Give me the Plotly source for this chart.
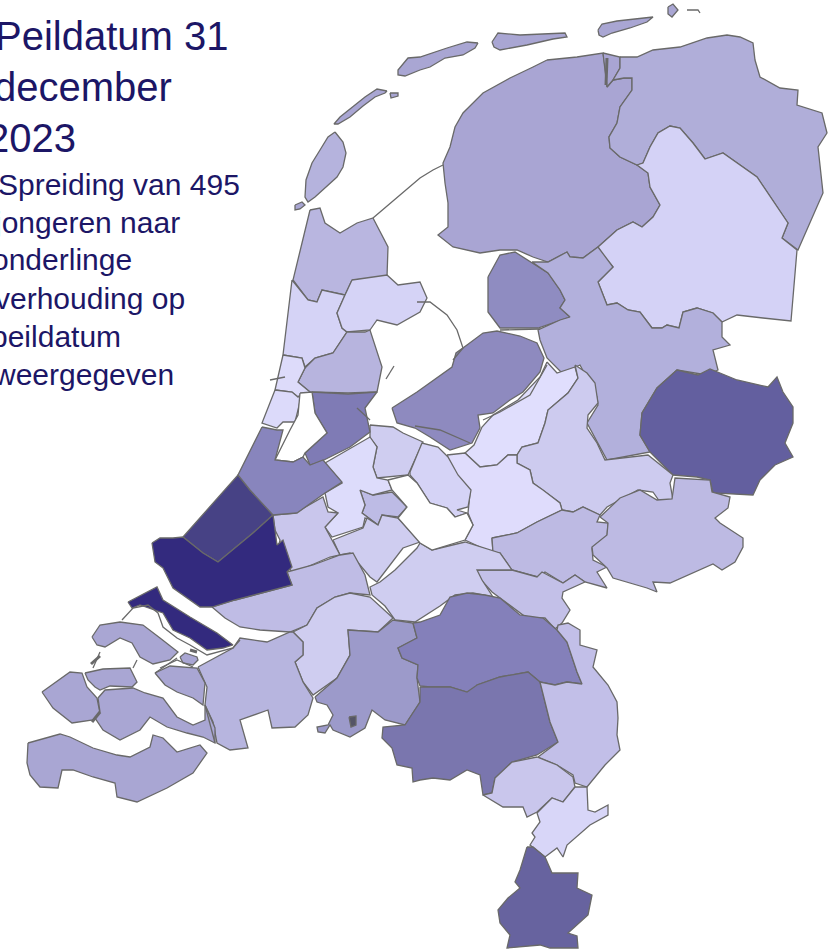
import plotly.graph_objects as go

TITLE_LINES = ["Peildatum 31", "december", "2023"]
TITLE_RIGHT = [230, 174, 78]
TITLE_Y = [36, 87, 138]
NOTE_LINES = ["Spreiding van 495", "jongeren naar", "onderlinge", "verhouding op", "peildatum", "weergegeven"]
NOTE_RIGHT = [242, 182, 134, 187, 123, 176]
NOTE_Y = [184, 222, 259, 298, 336, 374]
TEXT_COLOR = "#1c1666"
LINE_COLOR = "#696969"

TEXEL = [(335,132),(343,142),(346,153),(343,167),(337,177),(325,188),(315,197),(308,202),(305,197),(306,180),(312,163),(320,150),(328,137)]
NOORDERHAAKS = [(295,205),(302,202),(305,205),(300,209),(295,210)]
VLIELAND = [(387,91),(377,89),(365,97),(353,107),(340,117),(334,124),(338,124),(350,117),(363,106),(375,97),(385,93)]
RICHEL = [(390,93),(398,93),(398,96),(391,98)]
TERSCHELLING = [(478,43),(467,42),(447,48),(420,57),(408,58),(398,70),(398,75),(405,76),(420,70),(430,67),(445,58),(463,55),(475,48)]
AMELAND = [(492,42),(498,33),(520,35),(565,33),(567,37),(553,39),(527,45),(500,50),(494,47)]
SCHIERMONNIKOOG = [(598,30),(602,24),(617,21),(653,17),(647,22),(630,28),(612,33),(603,37),(599,35)]
ROTTUMEROOG = [(668,7),(673,4),(678,10),(672,17),(668,14)]
FRIESLAND = [(547,60),(577,57),(603,53),(605,67),(607,87),(613,80),(624,78),(632,78),(632,90),(620,107),(617,123),(609,137),(610,148),(620,157),(637,165),(648,173),(650,187),(660,205),(653,217),(642,227),(633,222),(617,230),(598,247),(583,258),(570,257),(567,252),(548,262),(533,257),(517,250),(500,250),(480,253),(453,247),(438,235),(448,227),(448,203),(445,183),(443,163),(450,147),(455,127),(463,113),(483,93),(510,78),(533,67)]
LAUWERSMEER = [(603,53),(620,57),(620,68),(613,80),(607,87),(605,67)]
GRONINGEN = [(620,57),(637,57),(653,50),(680,47),(707,38),(727,35),(740,37),(753,43),(755,60),(760,77),(780,88),(798,90),(797,105),(822,113),(827,133),(818,147),(823,193),(810,223),(798,250),(782,238),(788,223),(757,177),(723,153),(705,159),(693,143),(680,128),(670,126),(658,133),(650,147),(643,163),(637,165),(620,157),(610,148),(609,137),(617,123),(620,107),(632,90),(632,78),(624,78),(613,80),(620,68)]
DRENTHE = [(598,247),(617,230),(633,222),(642,227),(653,217),(660,205),(650,187),(648,173),(637,165),(643,163),(650,147),(658,133),(670,126),(680,128),(693,143),(705,159),(723,153),(757,177),(788,223),(782,238),(797,250),(791,321),(763,318),(737,315),(722,322),(713,313),(697,308),(683,312),(679,328),(667,325),(662,328),(652,328),(640,312),(628,310),(617,303),(607,305),(598,282),(613,267),(603,255)]
NOORDOOSTPOLDER = [(488,277),(500,255),(515,252),(533,263),(548,273),(560,290),(565,300),(560,308),(570,317),(538,328),(500,328),(488,312)]
OVERIJSSEL = [(532,262),(548,262),(567,252),(570,257),(583,258),(598,247),(613,267),(598,282),(607,305),(617,303),(628,310),(640,312),(652,328),(662,328),(667,325),(679,328),(683,312),(697,308),(713,313),(722,322),(722,337),(730,345),(713,350),(718,370),(707,375),(687,372),(677,370),(657,388),(642,413),(640,435),(650,452),(607,460),(600,447),(587,423),(598,405),(597,397),(580,365),(575,367),(562,373),(547,358),(540,340),(538,330),(560,320),(570,317),(560,308),(565,300),(560,290),(548,273)]
TWENTE = [(650,452),(640,435),(642,413),(657,388),(677,370),(698,375),(710,369),(737,380),(768,387),(777,377),(783,392),(793,407),(793,423),(785,443),(793,457),(775,465),(760,480),(753,495),(713,493),(710,480),(697,477),(673,475)]
FLEVOLAND = [(392,408),(417,392),(452,367),(456,353),(467,345),(483,333),(497,331),(520,336),(537,343),(544,358),(540,372),(523,392),(510,400),(493,413),(478,415),(480,428),(472,443),(450,450),(430,437),(415,428),(397,423)]
NOORD_VELUWE = [(547,362),(557,373),(575,367),(578,378),(568,393),(548,410),(545,423),(538,443),(522,447),(517,455),(508,455),(497,465),(480,467),(465,453),(474,445),(482,427),(493,415),(518,400),(540,377)]
IJSSELLAND = [(575,365),(587,373),(595,383),(598,403),(588,415),(587,428),(597,443),(605,460),(648,455),(673,475),(670,483),(673,500),(660,502),(653,492),(638,490),(620,500),(607,507),(600,515),(583,507),(573,512),(562,510),(560,503),(543,490),(533,483),(530,470),(517,463),(517,455),(522,447),(538,443),(545,423),(548,410),(568,393),(578,378)]
VALLEI = [(447,455),(465,453),(480,467),(497,465),(508,455),(517,455),(517,463),(530,470),(533,483),(543,490),(560,503),(562,510),(537,522),(517,533),(492,538),(493,553),(465,540),(473,525),(468,513),(470,493),(463,482),(453,472)]
RIJK_VAN_NIJMEGEN = [(492,538),(517,533),(537,522),(562,510),(573,512),(583,507),(600,515),(597,522),(608,523),(607,537),(592,548),(593,560),(607,567),(597,572),(607,588),(585,582),(575,575),(563,583),(545,572),(538,577),(512,570),(500,553),(493,553)]
ACHTERHOEK = [(600,517),(620,498),(640,490),(657,500),(672,499),(675,478),(710,480),(712,492),(730,497),(728,508),(715,518),(720,523),(743,538),(743,547),(735,562),(722,570),(713,564),(670,583),(653,582),(657,592),(647,588),(637,585),(613,578),(607,568),(593,555),(592,547),(607,535),(608,523)]
LAND_VAN_CUIJK = [(475,570),(512,570),(537,577),(542,572),(563,583),(575,575),(585,582),(563,592),(562,598),(570,610),(562,623),(555,629),(545,618),(527,618),(492,592),(483,582)]
RIVIERENLAND = [(420,543),(432,550),(465,542),(500,553),(512,570),(477,570),(482,580),(493,597),(473,593),(455,595),(440,606),(415,622),(395,620),(385,606),(372,595),(370,587),(380,582),(395,570),(417,548)]
EEMLAND = [(370,425),(393,427),(403,433),(423,442),(408,475),(377,478),(373,467),(377,447),(370,438)]
GOOI = [(410,472),(422,443),(438,447),(448,457),(458,475),(471,490),(468,507),(457,510),(467,513),(455,517),(447,508),(430,503),(417,483),(410,475)]
UTRECHT_STAD = [(360,490),(373,495),(392,492),(407,507),(398,517),(382,515),(378,525),(362,513),(365,505)]
UTRECHT_WEST = [(325,463),(348,450),(370,437),(377,447),(373,467),(377,478),(388,480),(392,490),(373,495),(360,490),(365,505),(362,513),(378,525),(365,518),(363,527),(332,537),(325,527),(338,513),(328,507),(325,493),(342,483)]
UTRECHT_ZUID = [(333,540),(363,528),(367,518),(378,525),(382,515),(398,518),(420,542),(403,548),(377,582),(370,577),(350,553),(340,555)]
MIDDEN_HOLLAND = [(273,515),(295,513),(323,497),(328,512),(338,513),(325,527),(332,540),(340,555),(330,557),(293,573),(288,567),(276,557),(280,540),(275,530)]
DRECHTSTEDEN = [(212,607),(235,600),(292,585),(287,572),(313,565),(340,555),(353,553),(365,575),(370,595),(350,593),(335,597),(317,608),(307,625),(290,632),(260,630),(240,627),(225,618)]
HART_VAN_BRABANT = [(293,632),(307,625),(317,608),(335,597),(350,593),(370,597),(393,618),(378,632),(348,630),(350,655),(337,678),(313,695),(303,682),(295,662),(303,655),(303,642)]
WEST_BRABANT = [(198,667),(233,648),(240,638),(267,642),(290,632),(293,632),(303,642),(303,655),(295,662),(303,682),(313,698),(308,715),(295,727),(272,728),(268,710),(240,720),(248,748),(230,750),(217,743),(213,722),(205,705),(207,687)]
MIDDEN_BRABANT = [(315,697),(337,678),(350,655),(348,630),(378,632),(393,620),(413,623),(417,638),(398,648),(402,658),(418,665),(417,678),(420,702),(405,725),(385,720),(372,710),(365,728),(350,737),(333,730),(330,725),(325,733),(318,732),(317,727),(328,725),(333,715),(327,705),(317,702)]
BAARLE = [(349,717),(356,716),(356,725),(351,727)]
NO_BRABANT = [(413,623),(420,622),(440,615),(450,597),(467,593),(485,595),(500,598),(520,615),(543,618),(557,630),(567,642),(577,672),(582,684),(567,682),(555,685),(540,682),(528,672),(500,677),(477,685),(475,695),(467,692),(450,687),(430,687),(420,686),(417,678),(418,665),(402,658),(398,648),(417,638)]
ZO_BRABANT = [(420,687),(450,687),(467,692),(477,685),(500,677),(528,672),(540,682),(550,722),(558,742),(537,755),(512,762),(495,778),(492,793),(483,795),(480,775),(467,770),(450,780),(433,778),(420,780),(413,782),(412,768),(397,765),(392,748),(382,738),(383,727),(405,725),(420,702)]
NOORD_LIMBURG = [(557,630),(558,625),(568,623),(580,630),(580,645),(597,650),(593,667),(608,685),(617,702),(618,718),(617,735),(620,750),(605,765),(587,787),(575,783),(573,775),(557,765),(538,757),(558,742),(550,722),(540,682),(555,685),(567,682),(582,684),(577,672),(567,642)]
MIDDEN_LIMBURG = [(537,757),(557,765),(573,777),(575,787),(563,802),(552,798),(537,812),(527,817),(523,807),(503,807),(483,795),(492,793),(495,778),(512,762)]
PARKSTAD = [(575,787),(587,787),(588,810),(595,812),(608,805),(608,815),(590,825),(567,845),(563,857),(557,848),(545,857),(530,845),(535,837),(532,833),(540,822),(537,813),(552,798),(563,802)]
ZUID_LIMBURG = [(527,847),(533,847),(545,857),(552,873),(578,873),(577,888),(592,895),(588,915),(568,933),(577,936),(578,948),(550,948),(540,945),(507,948),(510,935),(500,923),(498,910),(508,898),(520,888),(515,882),(520,870),(525,852)]
HAAGLANDEN = [(183,537),(238,475),(250,490),(273,515),(253,533),(218,562),(203,553)]
RIJNMOND = [(152,543),(160,538),(173,538),(183,537),(203,553),(218,562),(253,533),(273,515),(277,545),(283,540),(292,567),(287,572),(292,585),(235,600),(212,607),(200,607),(173,588),(163,568),(155,562)]
GOEREE = [(128,602),(157,587),(163,600),(190,617),(217,633),(233,645),(223,648),(207,650),(190,638),(173,630),(163,613),(140,605),(132,608)]
SCHOUWEN = [(92,637),(100,625),(120,622),(143,625),(160,638),(178,652),(170,660),(153,664),(140,657),(132,643),(120,638),(105,647),(97,645)]
THOLEN = [(180,657),(185,653),(197,657),(198,660),(193,665),(183,663)]
REIMERSWAAL = [(155,673),(170,666),(197,668),(205,683),(203,705),(193,698),(177,692),(165,685)]
NOORD_BEVELAND = [(85,673),(103,669),(130,668),(137,682),(132,687),(110,686),(100,690),(95,687),(88,680)]
WALCHEREN = [(42,692),(70,672),(82,673),(87,687),(97,698),(100,713),(93,720),(72,723),(53,708)]
ZUID_BEVELAND = [(98,698),(105,690),(133,688),(145,693),(163,698),(177,717),(193,725),(205,720),(205,705),(215,728),(215,743),(203,737),(187,733),(167,727),(150,717),(140,730),(120,740),(103,730),(95,718),(100,712)]
ZEEUWS_VLAANDEREN = [(28,743),(60,734),(70,737),(93,748),(117,755),(130,757),(150,747),(153,735),(163,738),(177,752),(200,745),(207,753),(193,773),(167,788),(137,802),(117,797),(115,783),(93,777),(73,770),(62,770),(58,788),(40,787),(30,775),(27,763)]
KOP_VAN_NH = [(310,210),(320,208),(325,223),(340,233),(357,223),(373,218),(388,247),(387,277),(352,280),(345,295),(322,290),(317,302),(308,300),(293,280),(302,243)]
ALKMAAR = [(292,280),(308,300),(317,302),(322,290),(345,295),(337,313),(342,328),(347,332),(333,353),(315,358),(305,367),(302,358),(283,355)]
WEST_FRIESLAND = [(352,280),(387,275),(398,285),(420,282),(427,298),(420,312),(397,325),(377,320),(370,330),(347,332),(342,328),(337,313),(345,295)]
ZAANSTREEK = [(298,382),(305,368),(315,358),(333,353),(347,332),(365,332),(370,330),(382,367),(377,392),(348,393),(310,392)]
IJMOND = [(283,355),(302,358),(305,368),(298,382),(310,392),(298,397),(292,392),(275,390)]
HAARLEM = [(275,390),(292,392),(298,397),(302,393),(298,410),(295,422),(283,422),(277,428),(262,423)]
AMSTERDAM = [(312,392),(348,394),(377,392),(365,408),(370,432),(350,447),(320,462),(310,465),(305,453),(327,433),(315,413)]
HAARLEMMERMEER = [(300,393),(312,392),(315,413),(327,433),(305,453),(303,457),(293,462),(275,460),(290,430),(298,415)]
LEIDEN = [(262,427),(277,430),(283,430),(275,460),(293,462),(303,457),(310,465),(323,460),(342,482),(325,493),(297,513),(273,515),(250,490),(238,475)]
UTRECHT_GAP = [(388,480),(408,475),(417,483),(430,503),(447,508),(455,517),(467,513),(473,525),(465,540),(432,550),(420,543),(398,518),(407,507),(392,490)]

REGION_NAMES = ["Texel", "Noorderhaaks", "Vlieland", "Richel", "Terschelling", "Ameland", "Schiermonnikoog", "Rottumeroog",
    "Friesland", "Lauwersmeer", "Groningen", "Drenthe", "Noordoostpolder", "Overijssel", "Twente", "Flevoland", "Noord-Veluwe", "IJsselland", "Vallei",
    "Rijk van Nijmegen", "Achterhoek", "Land van Cuijk", "Rivierenland", "Eemland", "Gooi", "Utrecht stad", "Utrecht west", "Utrecht zuid",
    "Midden-Holland", "Drechtsteden", "Hart van Brabant", "West-Brabant", "Midden-Brabant", "Baarle", "Noordoost-Brabant", "Zuidoost-Brabant",
    "Noord-Limburg", "Midden-Limburg", "Parkstad", "Zuid-Limburg", "Haaglanden", "Rijnmond", "Goeree", "Schouwen", "Tholen", "Reimerswaal",
    "Noord-Beveland", "Walcheren", "Zuid-Beveland", "Zeeuws-Vlaanderen", "Kop van Noord-Holland", "Alkmaar", "West-Friesland", "Zaanstreek",
    "IJmond", "Haarlem", "Amsterdam", "Haarlemmermeer", "Leiden", "Utrecht gat"]
REGION_OUTLINES = [TEXEL, NOORDERHAAKS, VLIELAND, RICHEL, TERSCHELLING, AMELAND, SCHIERMONNIKOOG, ROTTUMEROOG,
    FRIESLAND, LAUWERSMEER, GRONINGEN, DRENTHE, NOORDOOSTPOLDER, OVERIJSSEL, TWENTE, FLEVOLAND, NOORD_VELUWE, IJSSELLAND, VALLEI,
    RIJK_VAN_NIJMEGEN, ACHTERHOEK, LAND_VAN_CUIJK, RIVIERENLAND, EEMLAND, GOOI, UTRECHT_STAD, UTRECHT_WEST, UTRECHT_ZUID,
    MIDDEN_HOLLAND, DRECHTSTEDEN, HART_VAN_BRABANT, WEST_BRABANT, MIDDEN_BRABANT, BAARLE, NO_BRABANT, ZO_BRABANT,
    NOORD_LIMBURG, MIDDEN_LIMBURG, PARKSTAD, ZUID_LIMBURG, HAAGLANDEN, RIJNMOND, GOEREE, SCHOUWEN, THOLEN, REIMERSWAAL,
    NOORD_BEVELAND, WALCHEREN, ZUID_BEVELAND, ZEEUWS_VLAANDEREN, KOP_VAN_NH, ALKMAAR, WEST_FRIESLAND, ZAANSTREEK,
    IJMOND, HAARLEM, AMSTERDAM, HAARLEMMERMEER, LEIDEN, UTRECHT_GAP]
REGION_COLORS = ["#b5b3dd", "#a9a6d3", "#a9a6d3", "#a9a6d3", "#a9a6d3", "#a9a6d3", "#a9a6d3", "#a9a6d3",
    "#a9a5d3", "#a9a5d3", "#b0aed9", "#d4d2f6", "#8f8cc1", "#b2b0dc", "#635f9f", "#8e8abf", "#e0defd", "#cdcbef", "#dfdcfc",
    "#bdbae3", "#bdbae3", "#c3c0e8", "#cfcdf0", "#cfcdf0", "#d5d3f6", "#bdbbe5", "#dddcfb", "#cfcdf0",
    "#c9c6ec", "#bfbce5", "#cfcdf0", "#b7b5df", "#9c9aca", "#555566", "#8480ba", "#7a76ae",
    "#c2bfe8", "#c9c6ec", "#d8d6f8", "#67639f", "#474285", "#332a7e", "#332a7e", "#a9a6d3", "#a9a6d3", "#a9a6d3",
    "#a9a6d3", "#a9a6d3", "#a9a6d3", "#a9a6d3", "#b9b6e0", "#d5d3f6", "#d5d3f6", "#b7b4de",
    "#dddbfa", "#dcdafa", "#7f7bb5", "#ffffff", "#8885bd", "#ffffff"]

DETAIL_LINES = [
    [(373,218),(420,178),(433,170),(443,165)],
    [(417,302),(430,302),(447,315),(457,330),(463,348),(453,360)],
    [(500,330),(540,329)],
    [(122,620),(133,608),(148,605),(158,613),(163,627),(177,638),(190,645),(207,655),(233,648),(240,640)],
    [(93,668),(100,652)],
    [(133,668),(137,660)],
    [(160,668),(177,660),(193,667)],
    [(155,673),(177,658)],
    [(687,10),(698,10),(700,13)],
    [(270,380),(285,377)],
    [(357,408),(370,420)],
    [(386,379),(394,366)],
    [(415,426),(440,430),(470,443)],
    [(483,420),(500,412),(530,395),(547,365)],
    [(205,705),(215,743)],
]
THICK_DETAILS = [
    [(91,664),(100,656)],
    [(92,722),(100,712)],
    [(190,650),(197,652)],
    [(607,58),(606,85)],
]

fig = go.Figure()
for name, outline, color in zip(REGION_NAMES, REGION_OUTLINES, REGION_COLORS):
    xs = [p[0] for p in outline] + [outline[0][0]]
    ys = [p[1] for p in outline] + [outline[0][1]]
    fig.add_trace(go.Scatter(x=xs, y=ys, mode="lines", fill="toself", fillcolor=color, name=name,
                             line=dict(color=LINE_COLOR, width=1.3), hoverinfo="name", showlegend=False))
for detail in DETAIL_LINES:
    fig.add_trace(go.Scatter(x=[p[0] for p in detail], y=[p[1] for p in detail], mode="lines",
                             line=dict(color=LINE_COLOR, width=1.3), hoverinfo="skip", showlegend=False))
for detail in THICK_DETAILS:
    fig.add_trace(go.Scatter(x=[p[0] for p in detail], y=[p[1] for p in detail], mode="lines",
                             line=dict(color=LINE_COLOR, width=3), hoverinfo="skip", showlegend=False))

annotations = []
for text, right, y in zip(TITLE_LINES, TITLE_RIGHT, TITLE_Y):
    annotations.append(dict(x=right, y=y, xref="x", yref="y", text=text, showarrow=False, xanchor="right", yanchor="middle",
                            font=dict(family="Liberation Sans", size=40, color=TEXT_COLOR)))
for text, right, y in zip(NOTE_LINES, NOTE_RIGHT, NOTE_Y):
    annotations.append(dict(x=right, y=y, xref="x", yref="y", text=text, showarrow=False, xanchor="right", yanchor="middle",
                            font=dict(family="Liberation Sans", size=30, color=TEXT_COLOR)))

fig.update_layout(width=838, height=951, margin=dict(l=0, r=0, t=0, b=0), plot_bgcolor="white", paper_bgcolor="white",
                  xaxis=dict(range=[0, 838], visible=False, fixedrange=True),
                  yaxis=dict(range=[951, 0], visible=False, fixedrange=True),
                  annotations=annotations, showlegend=False)
fig.write_html("out.html", config={"displayModeBar": False},
               post_script="document.body.style.margin='0';document.body.style.overflow='hidden';")
